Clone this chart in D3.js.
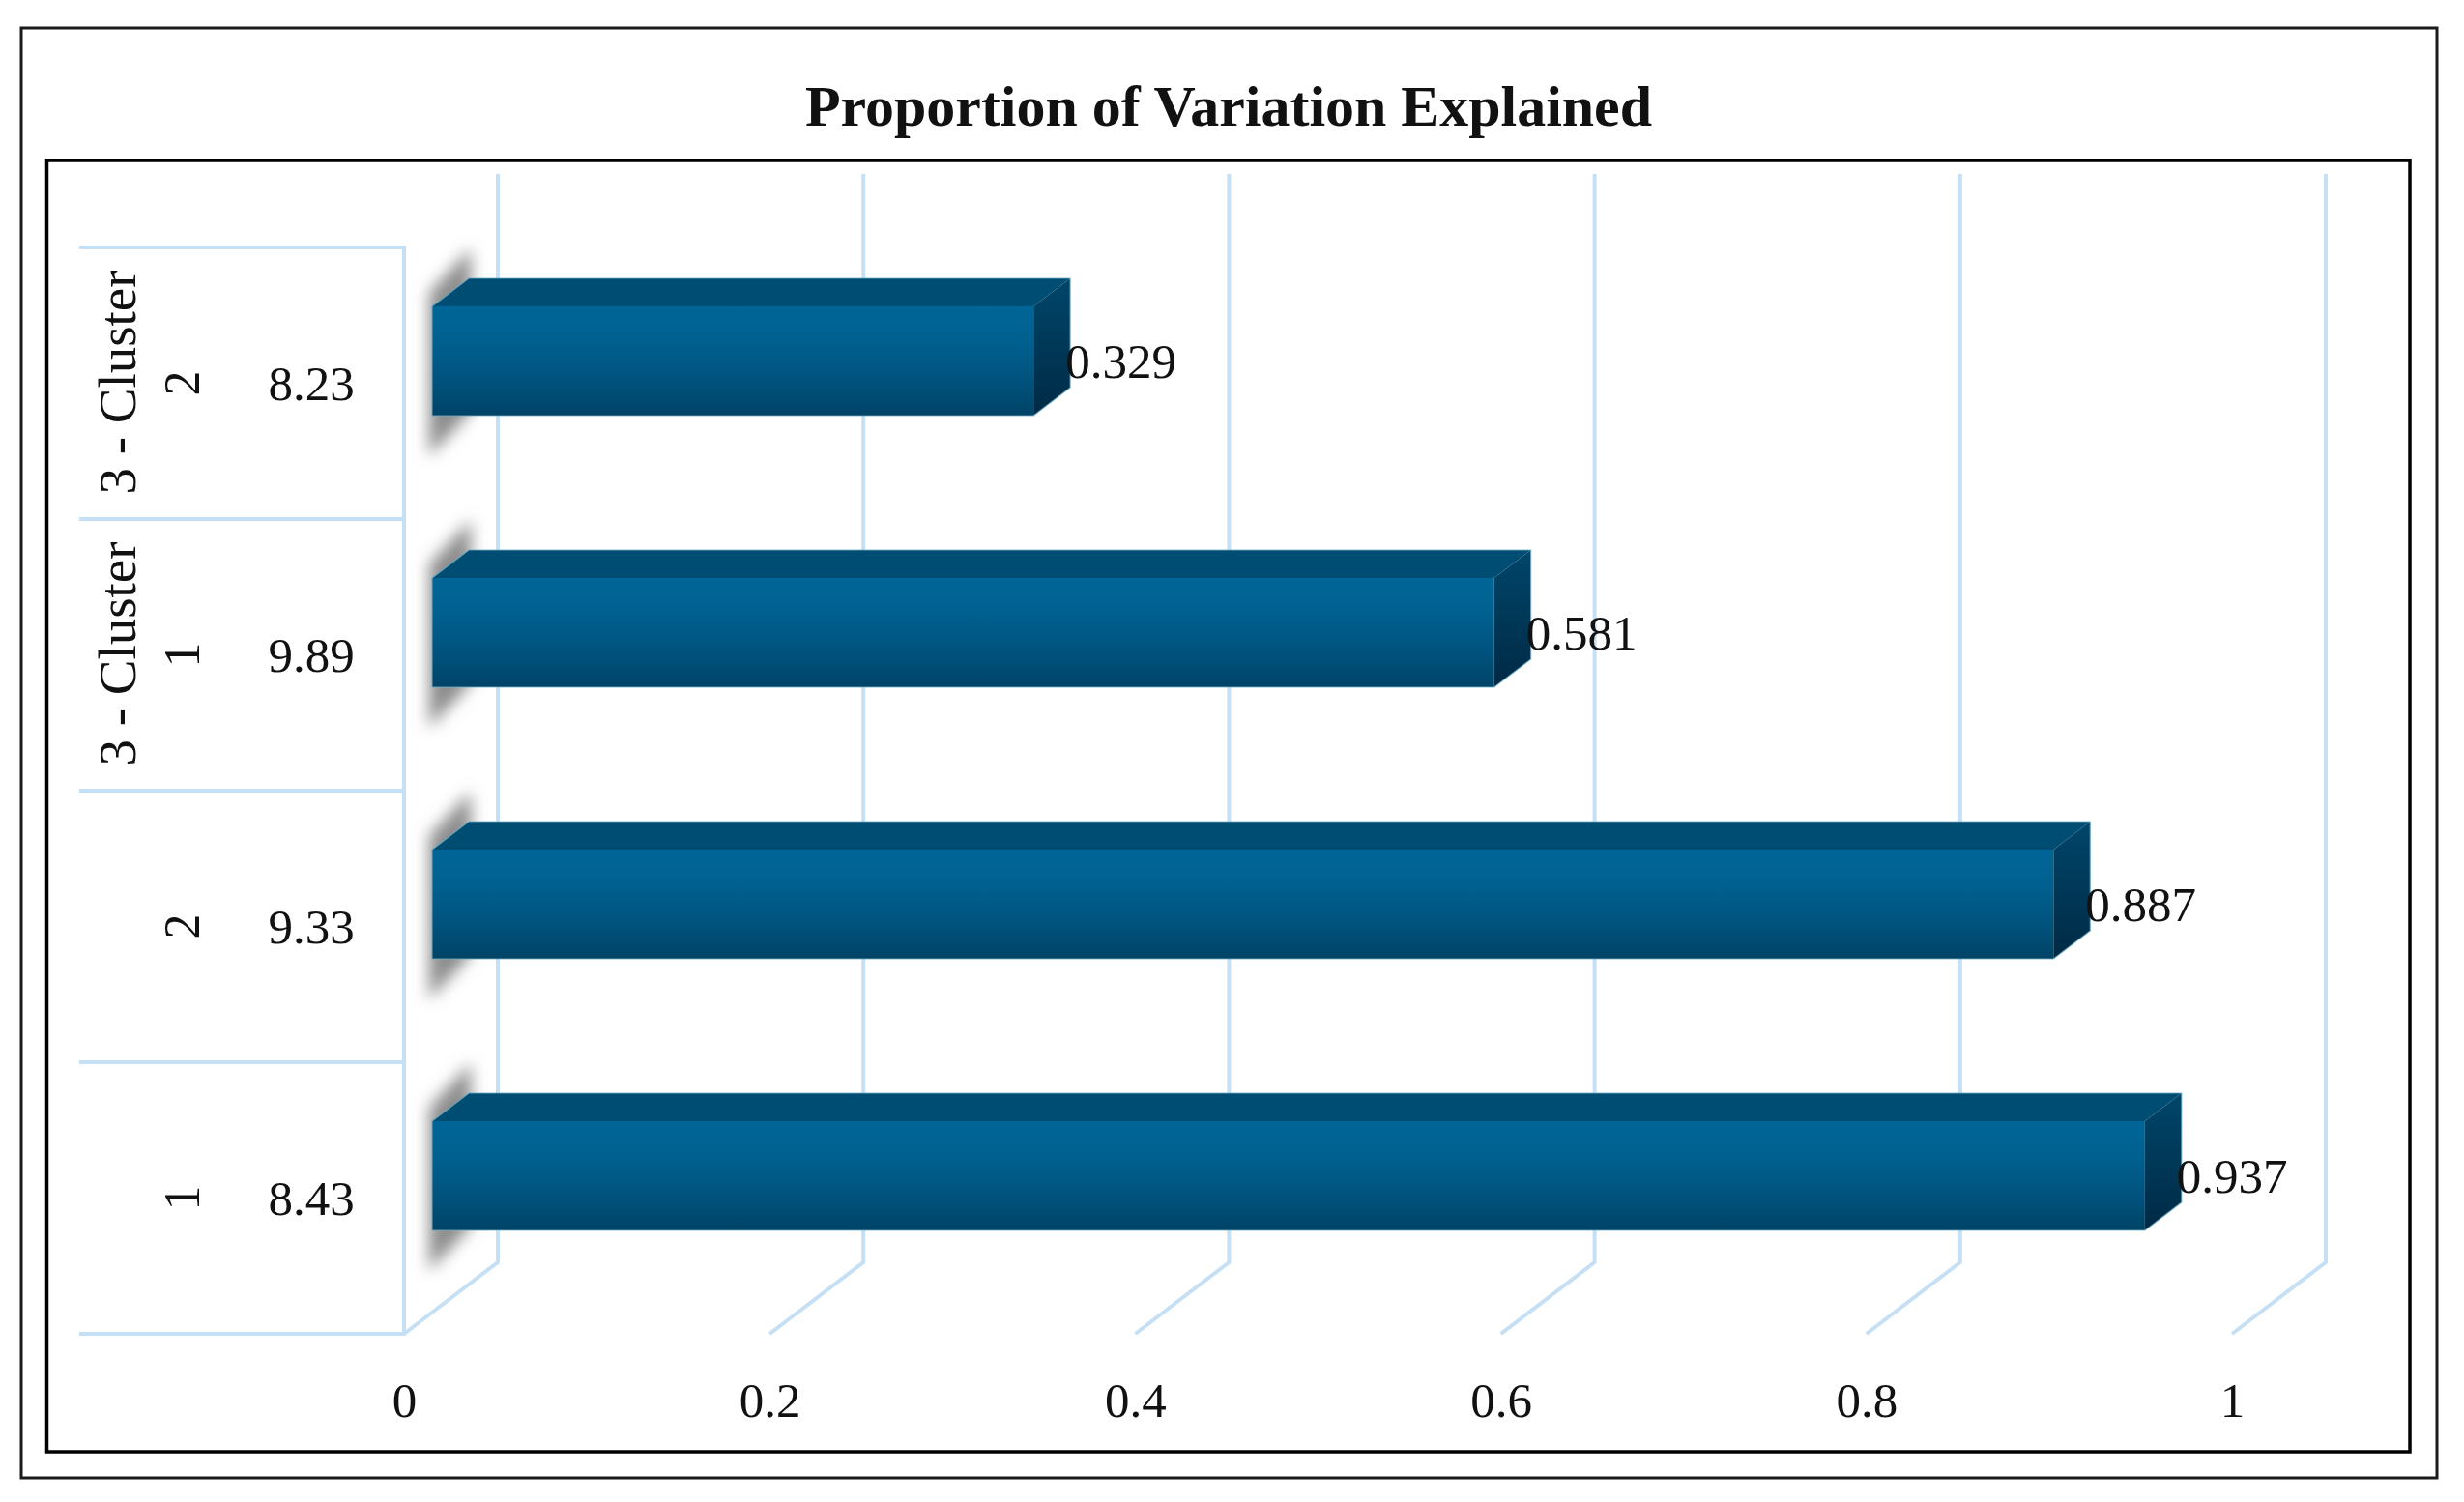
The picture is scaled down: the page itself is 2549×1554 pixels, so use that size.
<!DOCTYPE html>
<html>
<head>
<meta charset="utf-8">
<script src="https://cdn.jsdelivr.net/npm/d3@7"></script>
<style>
  html, body { margin: 0; padding: 0; background: #fff; }
  svg { display: block; }
  text { font-family: "Liberation Serif", serif; fill: #111; }
</style>
</head>
<body>
<svg></svg>
<script>
// chart data, bottom row first
const categories = ["1", "2", "3 - Cluster 1", "3 - Cluster 2"]
const groupLabels = ["", "", "3 - Cluster", "3 - Cluster"]
const subLabels = ["1", "2", "1", "2"]
const wssLabels = ["8.43", "9.33", "9.89", "8.23"]
const proportions = [0.937, 0.887, 0.581, 0.329]
const xTicks = [0, 0.2, 0.4, 0.6, 0.8, 1]
const title = "Proportion of Variation Explained"

const width = 2549
const height = 1554

// depth of the 3d floor and of the bars
const floorDx = 97
const floorDy = 74
const barDx = 38
const barDy = 29
const barInset = 29 // gap between the front of the floor and the bar
const barOffset = 61 // gap from top of row to front face of bar
const barHeight = 113

const rows = categories.map((c, i) => {
  return { cat: c, group: groupLabels[i], sub: subLabels[i], wss: wssLabels[i], value: proportions[i] }
})

const svg = d3.select("svg")
  .attr("width", width)
  .attr("height", height)

// scales
const x = d3.scaleLinear()
  .domain([0, 1])
  .range([418, 2309])

const y = d3.scaleBand()
  .domain(categories)
  .range([1380, 256])

const frontY = y.range()[0]
const gridTop = 180

// gradients + shadow blur
const defs = svg.append("defs")

const addGradient = (id, stops) => {
  const g = defs.append("linearGradient")
    .attr("id", id)
    .attr("x1", 0).attr("y1", 0)
    .attr("x2", 0).attr("y2", 1)
  stops.forEach(s => {
    g.append("stop").attr("offset", s[0]).attr("stop-color", s[1])
  })
}
addGradient("front", [[0, "#006697"], [0.3, "#006190"], [0.7, "#00527c"], [1, "#004366"]])
addGradient("side", [[0, "#00466a"], [1, "#002a45"]])

defs.append("filter")
  .attr("id", "blur")
  .attr("x", "-50%").attr("y", "-20%")
  .attr("width", "200%").attr("height", "140%")
  .append("feGaussianBlur")
  .attr("stdDeviation", 8)

// frames
svg.append("rect")
  .attr("x", 22).attr("y", 29)
  .attr("width", 2499).attr("height", 1500)
  .attr("fill", "none").attr("stroke", "#1a1a1a").attr("stroke-width", 3)

svg.append("rect")
  .attr("x", 48.5).attr("y", 166)
  .attr("width", 2444.5).attr("height", 1336)
  .attr("fill", "#fff").attr("stroke", "#000").attr("stroke-width", 3.5)

svg.append("text")
  .attr("x", 1271)
  .attr("y", 130)
  .attr("text-anchor", "middle")
  .attr("font-size", 59)
  .attr("font-weight", "bold")
  .attr("textLength", 876)
  .attr("lengthAdjust", "spacingAndGlyphs")
  .text(title)

// grid lines, front tick to the back wall and up
const gridColor = "#c5dff5"
const gridLine = d3.line()

svg.selectAll("path.grid")
  .data(xTicks)
  .enter()
  .append("path")
  .attr("class", "grid")
  .attr("d", d => gridLine([
    [x(d), frontY],
    [x(d) + floorDx, frontY - floorDy],
    [x(d) + floorDx, gridTop]
  ]))
  .attr("fill", "none")
  .attr("stroke", gridColor)
  .attr("stroke-width", 4)

// left wall with the category separators
svg.append("line")
  .attr("x1", x(0)).attr("x2", x(0))
  .attr("y1", y.range()[1] - 2).attr("y2", frontY + 2)
  .attr("stroke", gridColor)
  .attr("stroke-width", 4)

svg.selectAll("line.sep")
  .data(categories.map(c => y(c)).concat([frontY]))
  .enter()
  .append("line")
  .attr("class", "sep")
  .attr("x1", 82).attr("x2", x(0))
  .attr("y1", d => d).attr("y2", d => d)
  .attr("stroke", gridColor)
  .attr("stroke-width", 4)

// category labels
const labels = svg.selectAll("g.label")
  .data(rows)
  .enter()
  .append("g")
  .attr("class", "label")
  .attr("transform", d => `translate(0,${y(d.cat) + y.bandwidth() / 2})`)

labels.append("text")
  .attr("transform", "translate(140,-1) rotate(-90)")
  .attr("text-anchor", "middle")
  .attr("font-size", 55)
  .text(d => d.group)

labels.append("text")
  .attr("transform", "translate(206,0) rotate(-90)")
  .attr("text-anchor", "middle")
  .attr("font-size", 52)
  .text(d => d.sub)

labels.append("text")
  .attr("x", 322)
  .attr("y", 17)
  .attr("text-anchor", "middle")
  .attr("font-size", 51)
  .text(d => d.wss)

// value axis, only the labels show
const axis = d3.axisBottom(x)
  .tickValues(xTicks)
  .tickSize(0)
  .tickPadding(0)
  .tickFormat(d => String(d))

const axisG = svg.append("g")
  .attr("transform", "translate(0,1430)")
  .call(axis)

axisG.select(".domain").remove()
axisG.selectAll("text")
  .attr("font-size", 51)
  .attr("font-family", "Liberation Serif")
  .attr("fill", "#111")

// bars
const bars = svg.selectAll("g.bar")
  .data(rows)
  .enter()
  .append("g")
  .attr("class", "bar")
  .attr("transform", d => `translate(0,${y(d.cat) + barOffset})`)

const x0 = x(0) + barInset
const barRight = d => x(d.value) + barInset

// blurred shadow sitting behind the left end
bars.append("path")
  .attr("d", gridLine([[x0 - 3, -14], [x0 + 40, -60], [x0 + 40, barHeight - 4], [x0 - 3, barHeight + 42]]) + "Z")
  .attr("fill", "#8c8c8c")
  .attr("filter", "url(#blur)")

bars.append("rect")
  .attr("x", x0)
  .attr("y", 0)
  .attr("width", d => barRight(d) - x0)
  .attr("height", barHeight)
  .attr("fill", "url(#front)")

// top face
bars.append("path")
  .attr("d", d => gridLine([[x0, 0], [x0 + barDx, -barDy], [barRight(d) + barDx, -barDy], [barRight(d), 0]]) + "Z")
  .attr("fill", "#004d74")

// right face
bars.append("path")
  .attr("d", d => gridLine([[barRight(d), 0], [barRight(d) + barDx, -barDy], [barRight(d) + barDx, barHeight - barDy], [barRight(d), barHeight]]) + "Z")
  .attr("fill", "url(#side)")

// thin light edge round the whole bar
bars.append("path")
  .attr("d", d => gridLine([
    [x0, 0], [x0 + barDx, -barDy], [barRight(d) + barDx, -barDy],
    [barRight(d) + barDx, barHeight - barDy], [barRight(d), barHeight], [x0, barHeight]
  ]) + "Z")
  .attr("fill", "none")
  .attr("stroke", "#6fafc6")
  .attr("stroke-width", 1.2)
  .attr("stroke-opacity", 0.8)

// value labels
svg.selectAll("text.value")
  .data(rows)
  .enter()
  .append("text")
  .attr("class", "value")
  .attr("x", d => barRight(d) + 33)
  .attr("y", d => y(d.cat) + 135)
  .attr("font-size", 51)
  .text(d => d.value)
</script>
</body>
</html>
